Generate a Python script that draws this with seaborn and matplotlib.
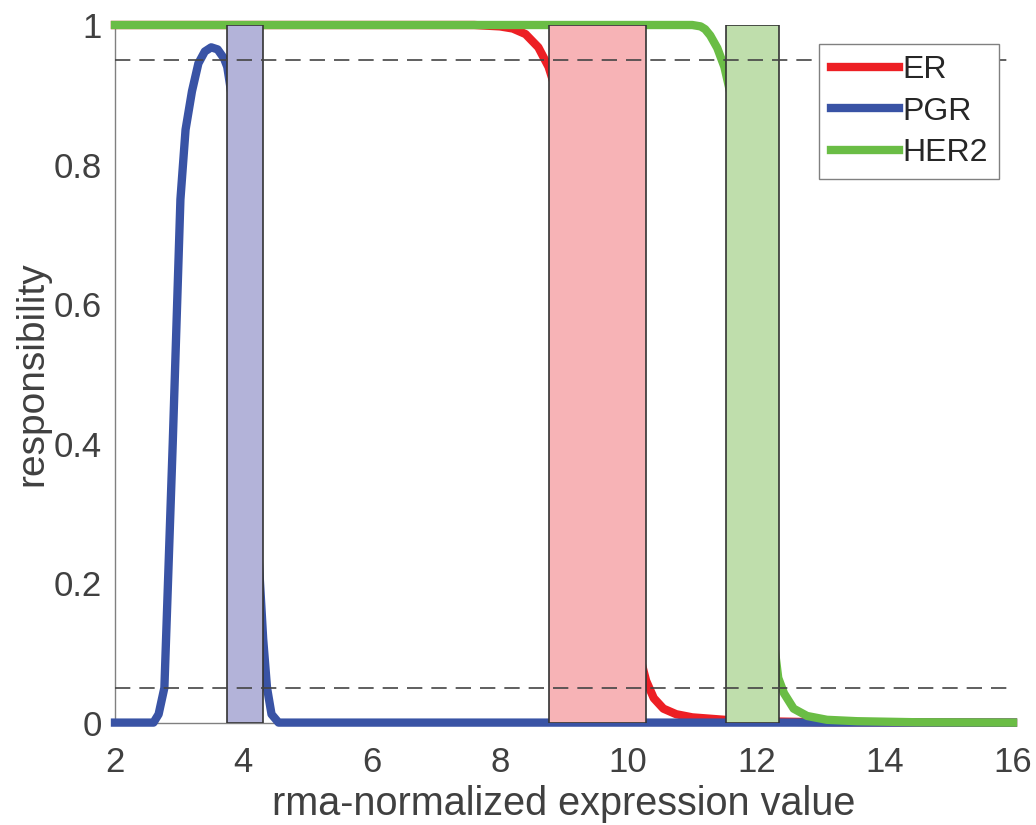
import numpy as np
import pandas as pd
import matplotlib
matplotlib.use("Agg")
import matplotlib.pyplot as plt
import seaborn as sns

# ---- data ----
genes = ["ER", "PGR", "HER2"]
line_colors = ["#ed1f24", "#3953a5", "#6abd45"]

er_x = [2.0, 7.6, 8.0, 8.2, 8.4, 8.6, 8.76, 9.0, 9.25, 9.5, 9.75, 10.0, 10.28,
        10.4, 10.55, 10.75, 11.0, 11.5, 12.0, 13.0, 16.0]
er_y = [1.0, 1.0, 0.998, 0.995, 0.987, 0.968, 0.94, 0.87, 0.75, 0.55, 0.32, 0.16, 0.06,
        0.035, 0.02, 0.012, 0.0075, 0.004, 0.002, 0.0005, 0.0]

pgr_x = [2.0, 2.6, 2.68, 2.77, 2.9, 3.02, 3.1, 3.2, 3.3, 3.4, 3.5, 3.6, 3.7, 3.75,
         3.9, 4.0, 4.1, 4.2, 4.31, 4.37, 4.44, 4.55, 16.0]
pgr_y = [0.0, 0.0, 0.012, 0.05, 0.40, 0.75, 0.85, 0.905, 0.945, 0.962, 0.968, 0.965, 0.952, 0.94,
         0.85, 0.72, 0.52, 0.30, 0.12, 0.05, 0.012, 0.0, 0.0]

her2_x = [2.0, 11.0, 11.13, 11.2, 11.28, 11.39, 11.5, 11.6, 11.8, 12.0, 12.2, 12.34,
          12.43, 12.58, 12.79, 13.1, 13.57, 14.5, 16.0]
her2_y = [1.0, 1.0, 0.998, 0.994, 0.985, 0.967, 0.94, 0.9, 0.75, 0.45, 0.17, 0.064,
          0.042, 0.020, 0.0095, 0.004, 0.002, 0.0005, 0.0]

band_left = [3.75, 8.76, 11.52]
band_right = [4.31, 10.28, 12.35]
band_colors = ["#b3b3d9", "#f7b3b6", "#bfdeac"]

thresholds = [0.05, 0.95]

x_ticks = [2, 4, 6, 8, 10, 12, 14, 16]
y_ticks = [0, 0.2, 0.4, 0.6, 0.8, 1.0]
y_tick_labels = ["0", "0.2", "0.4", "0.6", "0.8", "1"]

# ---- build long table ----
frames = []
for g, xs, ys in zip(genes, [er_x, pgr_x, her2_x], [er_y, pgr_y, her2_y]):
    frames.append(pd.DataFrame({"x": xs, "y": ys, "gene": g}))
df = pd.concat(frames, ignore_index=True)

sns.set_style("white")
plt.rcParams["font.family"] = ["Liberation Sans", "DejaVu Sans"]

fig = plt.figure(figsize=(10.36, 8.25), dpi=100)
ax = fig.add_axes([115 / 1036, 1 - 722.6 / 825, (1013 - 115) / 1036, (722.6 - 25) / 825])

sns.lineplot(data=df, x="x", y="y", hue="gene", hue_order=genes,
             palette=dict(zip(genes, line_colors)), estimator=None, sort=False,
             linewidth=6, legend=False, ax=ax,
             solid_capstyle="projecting", solid_joinstyle="round", clip_on=False, zorder=2)

# bands
widths = [r - l for l, r in zip(band_left, band_right)]
ax.bar(band_left, [1.0] * len(band_left), width=widths, bottom=0, align="edge",
       color=band_colors, edgecolor="#333333", linewidth=1.2, zorder=3)

for t in thresholds:
    ax.axhline(t, color="#444444", linewidth=1.2, dashes=(9.2, 5.4), zorder=4)

ax.set_xlim(2, 16)
ax.set_ylim(0, 1)
ax.set_xticks(x_ticks)
ax.set_yticks(y_ticks)
ax.set_yticklabels(y_tick_labels)

for s in ["top", "right"]:
    ax.spines[s].set_visible(False)
for s in ["left", "bottom"]:
    ax.spines[s].set_color("#808080")
    ax.spines[s].set_linewidth(1.0)
    ax.spines[s].set_zorder(0.5)

ax.tick_params(axis="both", direction="in", length=6.5, width=0.8, color="#404040",
               labelsize=25, labelcolor="#404040")
ax.tick_params(axis="x", pad=16.5)
ax.tick_params(axis="y", pad=9.4)

ax.set_xlabel("rma-normalized expression value", fontsize=28.5, color="#404040", labelpad=5)
ax.set_ylabel("responsibility", fontsize=28, color="#404040", labelpad=2.4)

leg = ax.legend(ax.lines[:3], genes, loc="upper left",
                bbox_to_anchor=(819 / 1036, 1 - 44 / 825), bbox_transform=fig.transFigure,
                borderaxespad=0, fontsize=23, frameon=True, fancybox=False,
                framealpha=1, edgecolor="#808080", handlelength=2.15, handletextpad=0.1,
                labelspacing=0.35, borderpad=0.36)
leg.get_frame().set_linewidth(1.0)
for txt in leg.get_texts():
    txt.set_color("#262626")
leg.set_zorder(5)

fig.savefig("out.png", dpi=100)
